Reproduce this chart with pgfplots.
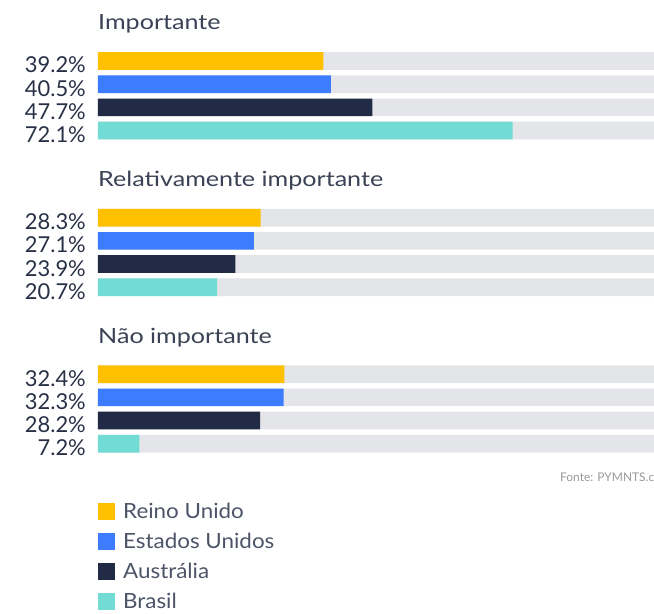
\documentclass[border=0pt]{standalone}
\usepackage{pgfplots}
\pgfplotsset{compat=1.18}
\usepackage{fontspec}
\setmainfont{Lato}
\newfontfamily\titlefont[FakeStretch=1.2]{Lato}
\newfontfamily\legendfont[FakeStretch=1.07]{Lato}
\definecolor{cyellow}{HTML}{FFC000}
\definecolor{cblue}{HTML}{3D7BFF}
\definecolor{cnavy}{HTML}{222B45}
\definecolor{cteal}{HTML}{72DCD4}
\definecolor{cgray}{HTML}{E4E5E8}
\definecolor{clabel}{HTML}{283046}
\definecolor{ctitle}{HTML}{3B4255}
\definecolor{clegend}{HTML}{4D5468}
\begin{document}
\begin{tikzpicture}
\begin{axis}[
  scale only axis, width=556bp, height=614bp,
  xmin=0, xmax=96.7, ymin=0, ymax=614,
  axis line style={draw=none}, major tick length=0pt,
  xtick=\empty,
  ytick={553,529.8,506.6,483.4, 396.3,373.1,349.9,326.7, 239.8,216.6,193.4,170.2},
  yticklabels={39.2\%,40.5\%,47.7\%,72.1\%, 28.3\%,27.1\%,23.9\%,20.7\%, 32.4\%,32.3\%,28.2\%,7.2\%},
  yticklabel style={anchor=base east, inner sep=0pt, xshift=-12bp, yshift=-12bp,
    font=\fontsize{22}{26}\selectfont, text=clabel},
  xbar, bar width=17.7, bar shift=0pt,
  legend cell align=left,
  legend style={at={(0,0.1808)}, anchor=north west, draw=none, fill=none,
    inner sep=0pt, row sep=13bp,
    font=\legendfont\fontsize{21}{25}\selectfont,
    nodes={inner sep=0pt, text height=15bp, text depth=1bp, text=clegend},
    /tikz/every odd column/.append style={column sep=8bp}},
  legend image code/.code={\fill[#1] (0bp,-8.5bp) rectangle (17bp,8.5bp);},
]
\addplot[fill=cgray, draw=none, forget plot] coordinates {
  (100,553) (100,529.8) (100,506.6) (100,483.4)
  (100,396.3) (100,373.1) (100,349.9) (100,326.7)
  (100,239.8) (100,216.6) (100,193.4) (100,170.2)};
\addplot[fill=cyellow, draw=none] coordinates {(39.2,553) (28.3,396.3) (32.4,239.8)};
\addplot[fill=cblue, draw=none] coordinates {(40.5,529.8) (27.1,373.1) (32.3,216.6)};
\addplot[fill=cnavy, draw=none] coordinates {(47.7,506.6) (23.9,349.9) (28.2,193.4)};
\addplot[fill=cteal, draw=none] coordinates {(72.1,483.4) (20.7,326.7) (7.2,170.2)};
\legend{Reino Unido, Estados Unidos, Austrália, Brasil}
\node[anchor=base west, inner sep=0pt, text=ctitle, font=\titlefont\fontsize{21}{25}\selectfont] at (axis cs:0,584.7) {Importante};
\node[anchor=base west, inner sep=0pt, text=ctitle, font=\titlefont\fontsize{21}{25}\selectfont] at (axis cs:0,427.3) {Relativamente importante};
\node[anchor=base west, inner sep=0pt, text=ctitle, font=\titlefont\fontsize{21}{25}\selectfont] at (axis cs:0,270.7) {Não importante};
\node[anchor=base west, inner sep=0pt, text=black!40, font=\fontsize{12}{14}\selectfont] at (axis cs:80.35,132) {Fonte: PYMNTS.com};
\end{axis}
\pgfresetboundingbox
\path[use as bounding box] (-98bp,0) rectangle (556bp,614bp);
\end{tikzpicture}
\end{document}
